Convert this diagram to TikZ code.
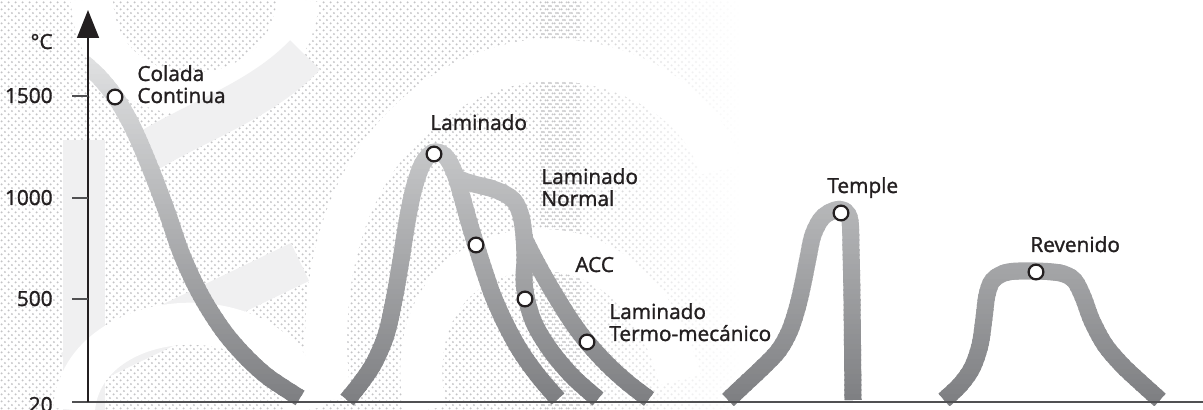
\documentclass[tikz,border=0pt]{standalone}
\usepackage{fontspec}
\setmainfont{Open Sans}[RawFeature={embolden=1.4}]
\usetikzlibrary{arrows.meta,patterns.meta,fadings}

% halftone screen used for the faint watermark behind the chart
\pgfdeclarepattern{
  name=halftone,
  type=uncolored,
  bottom left={\pgfpoint{0pt}{0pt}},
  top right={\pgfpoint{3.4pt}{3.4pt}},
  tile size={\pgfpoint{3.4pt}{3.4pt}},
  code={
    \pgfpathcircle{\pgfpoint{0.85pt}{0.85pt}}{0.55pt}
    \pgfpathcircle{\pgfpoint{2.55pt}{2.55pt}}{0.55pt}
    \pgfusepath{fill}
  }
}

\definecolor{bandTop}{RGB}{224,225,226}
\definecolor{bandBot}{RGB}{126,127,130}
\definecolor{dotgray}{RGB}{196,196,198}
\definecolor{logogray}{RGB}{240,240,241}
\definecolor{axisgray}{RGB}{80,80,82}
\definecolor{inkblack}{RGB}{35,31,32}

\tikzset{
  band/.style={draw=bandc, line width=8.5pt, line cap=butt, line join=round},
  marker/.style={circle, draw=inkblack, fill=white, line width=1.1pt, minimum size=7.4pt, inner sep=0pt},
  lbl/.style={font=\fontsize{10.4}{11}\selectfont, inner sep=0pt, align=left, text=inkblack},
  ticklbl/.style={font=\fontsize{10.4}{11}\selectfont, inner sep=0pt, text=inkblack},
  halftonefill/.style={pattern={halftone}, pattern color=dotgray},
  logostroke/.style={draw=#1, line width=21pt, line cap=butt},
}

% centre lines of the temperature bands
\newcommand\bandpaths{%
  % Colada continua
  \draw[band] plot[smooth, tension=0.55] coordinates {(84,63) (100,78) (116,98) (130,122) (142,148) (155,180) (168,215) (180,250) (193,280) (207,306) (225,333) (245,356) (268,377) (300,398)};
  % Laminado: subida y primera rama
  \draw[band] plot[smooth, tension=0.55] coordinates {(347,400) (360,384) (374,363) (386,335) (394,300) (401,260) (407,222) (414,188) (423,163) (434,152) (446,157) (455,174) (462,197) (469,222) (476,245) (484,270) (493,296) (506,325) (521,352) (539,377) (558,399)};
  % Laminado normal (tramo comun)
  \draw[band] plot[smooth, tension=0.55] coordinates {(452,176) (470,183) (490,188) (505,194) (515,202) (521,216) (524,235) (526,258)};
  % rama izquierda
  \draw[band] plot[smooth, tension=0.55] coordinates {(524,235) (525,258) (524,280) (527,301) (535,325) (551,351) (573,377) (598,399)};
  % rama derecha
  \draw[band] plot[smooth, tension=0.55] coordinates {(524,238) (533,256) (545,278) (558,300) (572,322) (587,342) (607,364) (628,383) (649,399)};
  % Temple
  \draw[band] plot[smooth, tension=0.55] coordinates {(728,400) (745,384) (763,367) (779,350) (790,330) (798,305) (803,283) (808,258) (813,235) (822,218) (835,210) (845,211) (850,221) (851,250) (852,300) (853,400)};
  % Revenido
  \draw[band] plot[smooth, tension=0.55] coordinates {(944,400) (960,385) (972,368) (980,345) (984,318) (987,295) (993,280) (1008,272) (1035,271) (1060,273) (1074,280) (1083,297) (1092,321) (1105,345) (1122,365) (1140,382) (1160,400)};
}

\begin{document}
\begin{tikzpicture}[x=0.5pt, y=-0.5pt]
  \useasboundingbox (0,0) rectangle (1203,410);
  \fill[white] (0,0) rectangle (1203,410);

  % watermark: halftone field with the logo strokes left blank
  \fill[halftonefill, path fading=east] (540,0) rectangle (740,410);
  \fill[halftonefill] (0,0) rectangle (580,410);
  \draw[logostroke=logogray] (84,140) -- (84,410);
  \draw[logostroke=logogray] (70,372) -- (300,262);
  \draw[logostroke=white] (92,0) .. controls (96,125) and (288,125) .. (298,0);
  \draw[logostroke=white] (74,410) .. controls (82,300) and (290,290) .. (305,410);
  \draw[logostroke=logogray] (150,150) .. controls (200,120) and (262,100) .. (305,55);
  \draw[logostroke=white] (330,400) .. controls (300,160) and (450,55) .. (560,60)
                                    .. controls (650,65) and (710,120) .. (720,170);
  \draw[logostroke=white] (425,410) .. controls (405,300) and (470,250) .. (540,250)
                                    .. controls (610,250) and (660,300) .. (680,380);

  % bands, shaded from light (top) to dark (bottom) strip by strip
  \foreach \i in {0,...,69}{
    \pgfmathsetmacro\ya{55+5*\i-0.5}
    \pgfmathsetmacro\yb{60+5*\i+0.5}
    \pgfmathsetmacro\p{\i/69*100}
    \colorlet{bandc}{bandBot!\p!bandTop}
    \begin{scope}
      \clip (88.5,\ya) rectangle (1203,\yb);
      \bandpaths
    \end{scope}
  }

  % axes
  \coordinate (origin) at (88,402);
  \coordinate (ytop) at (88,10);
  \coordinate (xend) at (1203,402);
  \coordinate (xstart) at (72,402);
  \draw[axisgray, line width=0.8pt] (xstart) -- (xend);
  \draw[inkblack, line width=0.75pt, -{Triangle[width=11pt,length=14pt]}] (origin) -- (ytop);

  % ticks and their values
  \foreach \name/\val/\yy in {t1500/1500/96, t1000/1000/198, t500/500/299}{
    \coordinate (\name) at (88,\yy);
    \draw[axisgray, line width=0.7pt] (72,\yy) -- (\name);
    \node[ticklbl, anchor=base east] (l\name) at (53,\yy+7) {\val};
  }
  \node[ticklbl, anchor=base east] (t20) at (53,412) {20};
  \node[ticklbl, anchor=base east] (unit) at (53,49) {°C};

  % process markers
  \node[marker] (mcol) at (115,97) {};
  \node[marker] (mlam) at (434,154) {};
  \node[marker] (mnor) at (476,245) {};
  \node[marker] (macc) at (525,299) {};
  \node[marker] (mter) at (587,342) {};
  \node[marker] (mtem) at (841,213) {};
  \node[marker] (mrev) at (1036,272) {};

  % process names (base = baseline of the last line)
  \node[lbl, anchor=base west] (tcol) at (137,103) {Colada\\Continua};
  \node[lbl, anchor=base west] (tlam) at (430,130) {Laminado};
  \node[lbl, anchor=base west] (tnor) at (541,206) {Laminado\\Normal};
  \node[lbl, anchor=base west] (tacc) at (575,272) {ACC};
  \node[lbl, anchor=base west] (tter) at (609,341) {Laminado\\Termo-mecánico};
  \node[lbl, anchor=base west] (ttem) at (827,193) {Temple};
  \node[lbl, anchor=base west] (trev) at (1030,252) {Revenido};
\end{tikzpicture}
\end{document}
